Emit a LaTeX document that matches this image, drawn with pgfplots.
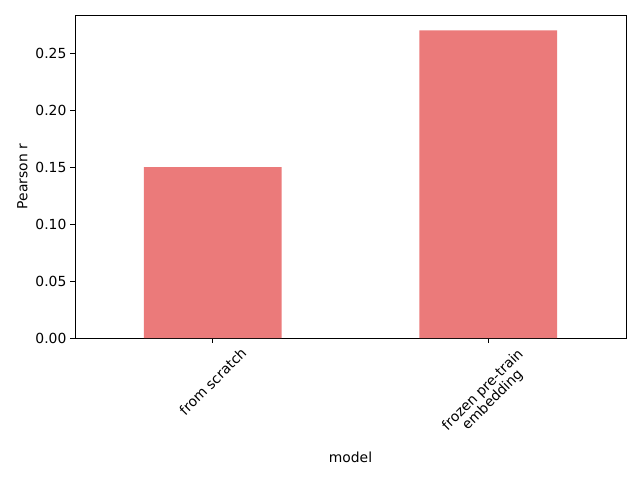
\documentclass[border=0pt]{standalone}
\usepackage{pgfplots}
\pgfplotsset{compat=1.18}
\usepackage{fontspec}
\setmainfont{DejaVu Sans}
\usepackage{graphicx}
\definecolor{barc}{RGB}{235,122,122}
\begin{document}
\fontsize{10pt}{12pt}\selectfont
\begin{tikzpicture}
\begin{axis}[
  at={(0pt,0pt)}, anchor=south west,
  scale only axis,
  width=396.72pt, height=232.56pt,
  xmin=-0.5, xmax=1.5,
  ymin=0, ymax=0.2835,
  xtick={0,1},
  xticklabels={{\rotatebox{45}{from scratch}},{\rotatebox{45}{\begin{tabular}{@{}c@{}}frozen pre-train\\[-2pt]embedding\end{tabular}}}},
  xticklabel style={anchor=north, inner sep=0pt, yshift=-2.5pt},
  ytick={0,0.05,0.10,0.15,0.20,0.25},
  yticklabel style={/pgf/number format/fixed,/pgf/number format/precision=2,/pgf/number format/fixed zerofill, inner sep=0pt, xshift=-2.5pt},
  /pgf/number format/assume math mode=true,
  scaled y ticks=false,
  tick align=outside,
  major tick length=3.5pt,
  tick style={black, line width=0.7pt},
  axis line style={line width=0.7pt},
  xtick pos=bottom, ytick pos=left,
  xlabel={model}, ylabel={Pearson r},
  xlabel style={at={(axis description cs:0.5,0)}, anchor=north, yshift=-82pt, inner sep=0pt},
  ylabel style={at={(axis description cs:0,0.5)}, anchor=south, yshift=34pt, inner sep=0pt},
  every tick label/.append style={font=\fontsize{10pt}{12pt}\selectfont},
]
\addplot[ybar, bar width=0.5, fill=barc, draw=none, bar shift=0pt] coordinates {(0,0.15) (1,0.27)};
\end{axis}
\path (-54pt,-102.24pt) rectangle (406.8pt,243.36pt);
\end{tikzpicture}
\end{document}
